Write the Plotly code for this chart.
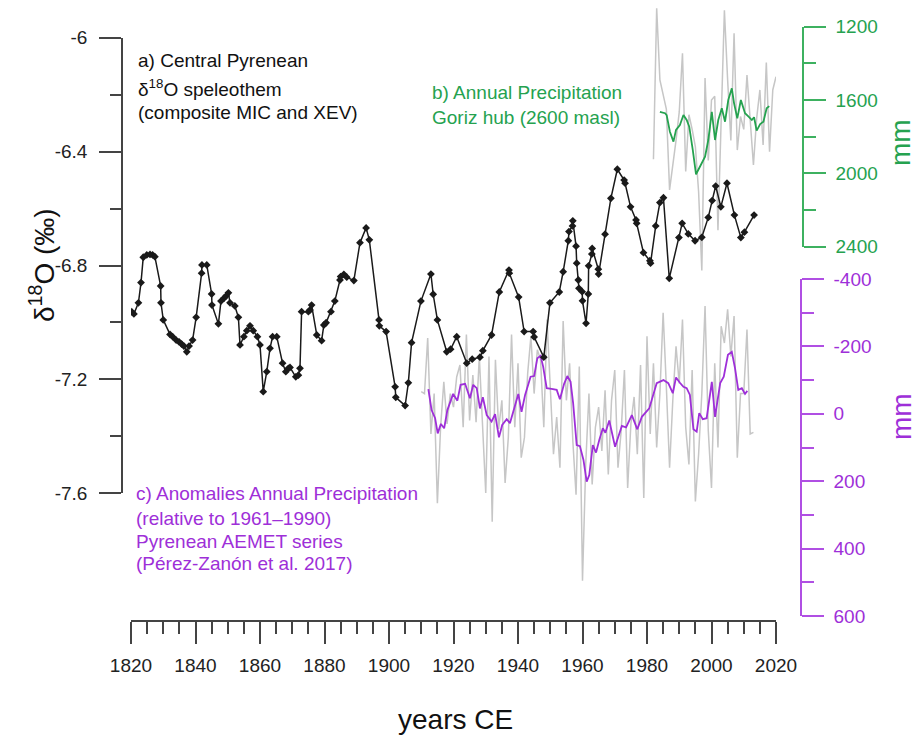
import plotly.graph_objects as go

# ---------------- data ----------------
d18o_years = [1820.2, 1820.9, 1822.3, 1823.1, 1823.8, 1824.9, 1825.9, 1826.7, 1827.4, 1829.2,
              1829.3, 1830.0, 1832.1, 1832.9, 1834.0, 1834.9, 1835.7, 1836.4, 1837.3, 1838.0,
              1839.1, 1840.2, 1841.9, 1842.0, 1843.5, 1845.0, 1845.1, 1847.1, 1847.9, 1848.8,
              1849.5, 1850.2, 1850.7, 1852.2, 1853.3, 1853.8, 1855.0, 1855.9, 1856.9, 1857.9,
              1859.2, 1860.0, 1861.0, 1862.1, 1863.1, 1863.9, 1865.2, 1867.0, 1868.0, 1868.8,
              1869.3, 1871.1, 1871.9, 1872.4, 1872.9, 1875.0, 1875.5, 1876.0, 1877.6, 1879.1,
              1879.8, 1880.5, 1882.0, 1883.2, 1884.8, 1885.0, 1886.0, 1886.9, 1889.1, 1891.0,
              1892.9, 1893.9, 1896.9, 1897.0, 1899.1, 1901.9, 1902.1, 1905.0, 1906.0, 1907.0,
              1909.9, 1913.0, 1913.7, 1915.0, 1917.9, 1919.1, 1921.0, 1924.1, 1925.8, 1928.2,
              1929.1, 1931.8, 1934.2, 1937.2, 1937.3, 1940.2, 1941.9, 1944.7, 1945.0, 1948.0,
              1949.9, 1952.8, 1954.0, 1955.6, 1955.8, 1956.9, 1957.0, 1958.0, 1958.2, 1958.7,
              1958.9, 1959.9, 1960.0, 1961.1, 1961.8, 1961.9, 1962.9, 1963.0, 1964.9, 1965.0,
              1967.0, 1968.8, 1970.8, 1972.9, 1973.2, 1974.9, 1976.6, 1976.8, 1978.9, 1980.9,
              1981.1, 1982.7, 1984.0, 1985.1, 1986.9, 1989.9, 1990.9, 1992.8, 1994.9, 1997.0,
              1999.0, 2000.2, 2001.3, 2002.9, 2004.8, 2007.1, 2009.1, 2010.2, 2013.2]
d18o_values = [-6.962, -6.970, -6.931, -6.860, -6.771, -6.763, -6.761, -6.763, -6.769, -6.872,
               -6.931, -6.991, -7.042, -7.050, -7.062, -7.068, -7.076, -7.083, -7.103, -7.083,
               -7.062, -6.982, -6.827, -6.798, -6.798, -6.900, -6.939, -7.005, -6.925, -6.915,
               -6.907, -6.896, -6.931, -6.942, -6.982, -7.079, -7.050, -7.029, -7.012, -7.029,
               -7.050, -7.079, -7.243, -7.173, -7.091, -7.050, -7.050, -7.143, -7.173, -7.161,
               -7.158, -7.191, -7.185, -7.161, -6.962, -6.962, -6.956, -6.939, -7.044, -7.064,
               -7.009, -7.001, -6.962, -6.925, -6.851, -6.839, -6.831, -6.841, -6.853, -6.720,
               -6.668, -6.710, -6.991, -7.012, -7.032, -7.226, -7.263, -7.292, -7.212, -7.071,
               -6.925, -6.830, -6.901, -6.991, -7.103, -7.094, -7.050, -7.143, -7.129, -7.122,
               -7.099, -7.044, -6.893, -6.816, -6.827, -6.911, -7.032, -7.032, -7.051, -7.122,
               -6.931, -6.893, -6.822, -6.713, -6.681, -6.661, -6.643, -6.732, -6.792, -6.851,
               -6.880, -6.892, -6.924, -7.003, -6.900, -6.801, -6.760, -6.740, -6.813, -6.830,
               -6.690, -6.564, -6.462, -6.500, -6.511, -6.594, -6.640, -6.652, -6.755, -6.783,
               -6.792, -6.661, -6.579, -6.562, -6.845, -6.702, -6.652, -6.689, -6.713, -6.701,
               -6.631, -6.572, -6.521, -6.594, -6.511, -6.623, -6.702, -6.683, -6.623]

goriz_raw_years = list(range(1982, 2021))
goriz_raw_values = [1923, 1100, 1490, 1580, 1650, 2090, 1965, 1820, 1665, 1345,
                    1990, 1680, 1760, 1855, 2100, 2530, 1480, 1930, 1600, 1580,
                    2310, 1700, 1110, 1490, 1820, 1236, 1873, 1690, 1760, 1464,
                    1700, 1954, 1700, 1545, 1845, 1396, 1882, 1545, 1473]

goriz_smooth_years = [1984.0, 1985.6, 1986.1, 1987.1, 1988.2, 1989.0, 1990.2, 1991.3, 1992.3, 1993.1,
                      1994.2, 1995.2, 1996.4, 1998.0, 1999.0, 2000.1, 2001.1, 2002.1, 2003.2, 2004.2,
                      2005.2, 2006.3, 2007.0, 2008.0, 2009.1, 2010.4, 2011.5, 2012.5, 2013.2, 2014.0,
                      2015.1, 2016.1, 2017.1, 2017.9]
goriz_smooth_values = [1664, 1672, 1682, 1773, 1827, 1763, 1736, 1682, 1709, 1745,
                       1873, 2005, 1964, 1909, 1818, 1664, 1818, 1709, 1645, 1718,
                       1600, 1536, 1618, 1700, 1600, 1672, 1691, 1709, 1694, 1767,
                       1731, 1718, 1645, 1633]

anom_raw_years = list(range(1910, 2014))
anom_raw_values = [-66, -60, -225, 60, -60, 265, 40, -95, 30, -60,
                   -20, -110, -145, 40, -235, 20, -115, 25, -170, 50,
                   235, -170, 320, -160, 45, -40, 205, 70, -235, 40,
                   -150, 130, 70, -120, -230, -60, -190, -160, 40, -280,
                   -70, 120, 10, 160, -275, -40, -150, 80, 240, -140,
                   495, 150, -60, 210, 40, -20, 110, -70, 180, -40,
                   -130, 160, 50, -130, 220, 30, -50, 120, -145, 250,
                   -230, 60, -150, 100, -60, -300, -80, 160, -40, -200,
                   -90, -280, 40, 150, -130, 260, 120, -60, -320, 50,
                   220, -150, 100, -260, -210, -310, -170, -290, 130, -60,
                   -60, -250, 60, 55]

anom_smooth_years = [1912.2, 1913.2, 1914.3, 1915.1, 1916.1, 1917.1, 1918.1, 1919.9, 1921.2, 1922.2,
                     1923.6, 1925.1, 1926.1, 1927.2, 1928.2, 1929.1, 1930.3, 1931.8, 1932.9, 1934.1,
                     1935.1, 1936.5, 1937.5, 1940.1, 1941.1, 1942.2, 1943.9, 1945.0, 1946.0, 1947.0,
                     1947.8, 1948.9, 1950.4, 1952.0, 1953.0, 1954.3, 1955.3, 1956.3, 1957.1, 1958.2,
                     1959.2, 1960.3, 1961.3, 1962.1, 1963.2, 1964.2, 1965.2, 1966.3, 1967.1, 1968.3,
                     1970.1, 1972.2, 1973.5, 1975.3, 1977.0, 1978.4, 1980.7, 1983.0, 1985.1, 1986.6,
                     1988.0, 1989.0, 1990.2, 1991.3, 1992.3, 1993.3, 1994.4, 1995.4, 1996.2, 1997.3,
                     1998.5, 2000.1, 2001.1, 2002.7, 2003.8, 2005.1, 2006.3, 2007.3, 2008.3, 2009.4,
                     2010.4, 2011.1]
anom_smooth_values = [-73, -11, 13, 58, 30, 43, -11, -59, -39, -86,
                      -89, -46, -86, -76, -16, -49, 4, 23, 1, 70,
                      33, 16, 28, -59, -6, -56, -110, -112, -165, -172,
                      -140, -76, -74, -71, -43, -89, -112, -95, -31, 93,
                      96, 137, 201, 182, 93, 115, 78, 43, 56, 20,
                      98, 36, 40, 4, 46, 9, -16, -91, -100, -91,
                      -61, -108, -92, -80, -76, -56, 46, 53, -2, 16,
                      13, -95, 9, -91, -110, -175, -184, -135, -71, -76,
                      -59, -68]

x_ticks = list(range(1820, 2021, 20))
x_minor = [v for v in range(1820, 2021, 5) if v % 20 != 0]
d18o_ticks = [-6.0, -6.4, -6.8, -7.2, -7.6]
d18o_ticktext = ["-6", "-6.4", "-6.8", "-7.2", "-7.6"]
d18o_minor = [-6.2, -6.6, -7.0, -7.4]
goriz_ticks = [1200, 1600, 2000, 2400]
goriz_minor = [1400, 1800, 2200]
anom_ticks = [-400, -200, 0, 200, 400, 600]
anom_ticktext = ["-400", "-200", "0", "200", "400", "600"]
anom_minor = [-300, -100, 100, 300, 500]

# ---------------- styling / layout helpers ----------------
W, H = 920, 740
FONT = "Liberation Sans, Arial, sans-serif"
GREEN = "#25a24f"
GREEN_AX = "#3db160"
PURPLE = "#9e2fd8"
PURPLE_AX = "#b04fe3"
GRAY = "#c6c6c6"
BLACK = "#1a1a1a"
AX = "#444444"


def px(xp):
    return xp / W


def py(yp):
    return 1 - yp / H


# visible green axis spans pixels 26.7..246.7 for 1200..2400; hidden axis extends it
g_top, g_bot = 26.7, 246.7
mm_per_px = (2400 - 1200) / (g_bot - g_top)
hid_top, hid_bot = 0.0, 285.0
hid_range = [2400 + (hid_bot - g_bot) * mm_per_px, 1200 - (g_top - hid_top) * mm_per_px]

fig = go.Figure()
fig.add_trace(go.Scatter(x=goriz_raw_years, y=goriz_raw_values, mode="lines",
                         line=dict(color=GRAY, width=1.5), xaxis="x", yaxis="y", hoverinfo="skip"))
fig.add_trace(go.Scatter(x=goriz_smooth_years, y=goriz_smooth_values, mode="lines",
                         line=dict(color=GREEN, width=1.8), xaxis="x", yaxis="y2"))
fig.add_trace(go.Scatter(x=anom_raw_years, y=anom_raw_values, mode="lines",
                         line=dict(color=GRAY, width=1.5), xaxis="x", yaxis="y3", hoverinfo="skip"))
fig.add_trace(go.Scatter(x=anom_smooth_years, y=anom_smooth_values, mode="lines",
                         line=dict(color=PURPLE, width=1.8), xaxis="x", yaxis="y3"))
fig.add_trace(go.Scatter(x=d18o_years, y=d18o_values, mode="lines+markers",
                         line=dict(color=BLACK, width=1.5),
                         marker=dict(symbol="diamond", size=6, color=BLACK),
                         xaxis="x", yaxis="y4"))

tick_font = dict(family=FONT, size=19)

fig.update_layout(
    width=W, height=H, margin=dict(l=0, r=0, t=0, b=0, autoexpand=False),
    paper_bgcolor="white", plot_bgcolor="rgba(0,0,0,0)", showlegend=False,
    font=dict(family=FONT, color="#222"),
    xaxis=dict(domain=[px(131), px(776)], range=[1820, 2020], anchor="free", position=py(621),
               showline=True, linecolor=AX, linewidth=1.5, ticks="outside", ticklen=22,
               tickwidth=1.5, tickcolor=AX, tickmode="array", tickvals=x_ticks,
               ticktext=[str(v) for v in x_ticks], tickfont=dict(tick_font, color="#222"),
               minor=dict(tickmode="array", tickvals=x_minor, ticks="outside", ticklen=12,
                          tickwidth=1.5, tickcolor=AX),
               showgrid=False, zeroline=False, ticklabelstandoff=5, automargin=False),
    yaxis=dict(domain=[py(hid_bot), py(hid_top)], range=hid_range, visible=False,
               anchor="free", position=0, showgrid=False, zeroline=False),
    yaxis2=dict(domain=[py(g_bot), py(g_top)], range=[2400, 1200], anchor="free",
                position=px(803), side="right", showline=True, linecolor=GREEN_AX,
                linewidth=1.5, ticks="outside", ticklen=22, tickwidth=1.5, tickcolor=GREEN_AX,
                tickmode="array", tickvals=goriz_ticks, ticktext=[str(v) for v in goriz_ticks],
                tickfont=dict(tick_font, color=GREEN),
                minor=dict(tickmode="array", tickvals=goriz_minor, ticks="outside", ticklen=12,
                           tickwidth=1.5, tickcolor=GREEN_AX),
                showgrid=False, zeroline=False, ticklabelstandoff=6, automargin=False),
    yaxis3=dict(domain=[py(616), py(279)], range=[600, -400], anchor="free",
                position=px(801), side="right", showline=True, linecolor=PURPLE_AX,
                linewidth=1.5, ticks="outside", ticklen=22, tickwidth=1.5, tickcolor=PURPLE_AX,
                tickmode="array", tickvals=anom_ticks, ticktext=anom_ticktext,
                tickfont=dict(tick_font, color=PURPLE),
                minor=dict(tickmode="array", tickvals=anom_minor, ticks="outside", ticklen=12,
                           tickwidth=1.5, tickcolor=PURPLE_AX),
                showgrid=False, zeroline=False, ticklabelstandoff=6, automargin=False),
    yaxis4=dict(domain=[py(493.3), py(37.7)], range=[-7.6, -6.0], anchor="free",
                position=px(122), side="left", showline=True, linecolor=AX, linewidth=1.5,
                ticks="outside", ticklen=22, tickwidth=1.5, tickcolor=AX,
                tickmode="array", tickvals=d18o_ticks, ticktext=d18o_ticktext,
                tickfont=dict(tick_font, color="#222"),
                minor=dict(tickmode="array", tickvals=d18o_minor, ticks="outside", ticklen=11,
                           tickwidth=1.5, tickcolor=AX),
                showgrid=False, zeroline=False, ticklabelstandoff=8, automargin=False),
)


def note(text, x, y, color="#111", size=19, angle=0, xanchor="left"):
    fig.add_annotation(text=text, x=px(x), y=py(y), xref="paper", yref="paper",
                       xanchor=xanchor, yanchor="middle", showarrow=False, textangle=angle,
                       font=dict(family=FONT, size=size, color=color))


note("a) Central Pyrenean", 136, 60)
note("δ<sup>18</sup>O speleothem", 136, 88)
note("(composite MIC and XEV)", 136, 112)
note("b) Annual Precipitation", 430, 93, color=GREEN)
note("Goriz hub (2600 masl)", 430, 117, color=GREEN)
note("c) Anomalies Annual Precipitation", 134, 494, color=PURPLE)
note("(relative to 1961–1990)", 134, 518, color=PURPLE)
note("Pyrenean AEMET series", 134, 541, color=PURPLE)
note("(Pérez-Zanón et al. 2017)", 134, 563, color=PURPLE)
note("years CE", 455, 719, color="#111", size=28, xanchor="center")
note("δ<sup>18</sup>O (‰)", 42, 265, color="#111", size=28, angle=-90, xanchor="center")
note("mm", 900, 143, color=GREEN, size=28, angle=-90, xanchor="center")
note("mm", 901, 417, color=PURPLE, size=28, angle=-90, xanchor="center")

fig.write_html("out.html")
